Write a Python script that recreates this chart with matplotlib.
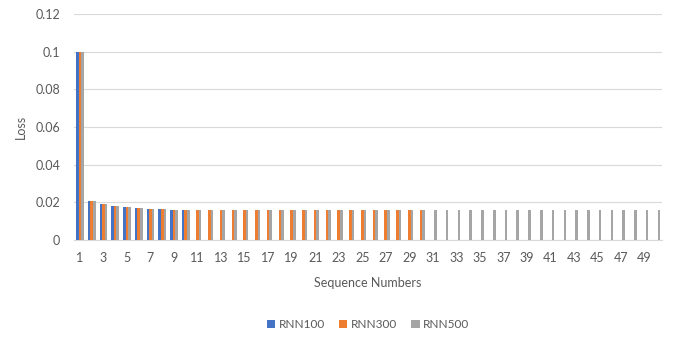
import matplotlib
matplotlib.use("Agg")
import matplotlib.pyplot as plt
import numpy as np

plt.rcParams['font.family'] = ['Lato', 'DejaVu Sans']

# Loss per sequence number for each model
rnn100 = [0.0995, 0.0207, 0.0191, 0.0181, 0.0175, 0.0170, 0.0166, 0.0163, 0.0161, 0.0160]
rnn300 = [0.0995, 0.0207, 0.0190, 0.0180, 0.0174, 0.0169, 0.0165, 0.0163, 0.0161, 0.0160,
          0.0160, 0.0160, 0.0159, 0.0159, 0.0159, 0.0159, 0.0159, 0.0159, 0.0159, 0.0159,
          0.0159, 0.0159, 0.0159, 0.0159, 0.0159, 0.0159, 0.0159, 0.0159, 0.0159, 0.0159]
rnn500 = [0.0995, 0.0206, 0.0190, 0.0180, 0.0174, 0.0169, 0.0165, 0.0162, 0.0161, 0.0160,
          0.0160, 0.0159, 0.0159, 0.0159, 0.0159, 0.0159, 0.0159, 0.0159, 0.0159, 0.0159,
          0.0159, 0.0159, 0.0159, 0.0159, 0.0159, 0.0159, 0.0159, 0.0159, 0.0159, 0.0159,
          0.0159, 0.0159, 0.0159, 0.0159, 0.0159, 0.0159, 0.0159, 0.0159, 0.0159, 0.0159,
          0.0159, 0.0159, 0.0159, 0.0159, 0.0159, 0.0159, 0.0159, 0.0159, 0.0159, 0.0159]
series_names = ["RNN100", "RNN300", "RNN500"]
colors = ["#4472C4", "#ED7D31", "#A5A5A5"]
y_ticks = [0, 0.02, 0.04, 0.06, 0.08, 0.1, 0.12]
y_tick_labels = ["0", "0.02", "0.04", "0.06", "0.08", "0.1", "0.12"]

fig = plt.figure(figsize=(6.73, 3.38), dpi=100)
ax = fig.add_axes([0.110, 0.290, 0.874, 0.669])

width = 0.22
offsets = [-width, 0.0, width]
for vals, name, col, off in zip([rnn100, rnn300, rnn500], series_names, colors, offsets):
    x = np.arange(1, len(vals) + 1)
    ax.bar(x + off, vals, width=width, color=col, label=name, zorder=3)

ax.set_xlim(0.5, 50.5)
ax.set_ylim(0, 0.12)
ax.set_yticks(y_ticks)
ax.set_yticklabels(y_tick_labels)
ax.set_xticks(np.arange(1, 51, 2))
ax.set_xticklabels([str(i) for i in range(1, 51, 2)])

ax.grid(axis='y', color='#D9D9D9', linewidth=0.8, zorder=0)
for s in ['top', 'right', 'left']:
    ax.spines[s].set_visible(False)
ax.spines['bottom'].set_color('#D9D9D9')
ax.tick_params(axis='both', length=0, labelsize=9, colors='#595959')
ax.tick_params(axis='y', pad=10)
ax.tick_params(axis='x', pad=9)

ax.set_xlabel("Sequence Numbers", fontsize=9, color='#595959', labelpad=9)
ax.set_ylabel("Loss", fontsize=9, color='#595959', labelpad=6)

ax.legend(loc='center', bbox_to_anchor=(0.5, -0.375), ncol=3, frameon=False,
          fontsize=8.5, handlelength=0.7, handleheight=0.7, handletextpad=0.3,
          columnspacing=1.2, labelcolor='#595959')

fig.savefig("out.png", dpi=100)
